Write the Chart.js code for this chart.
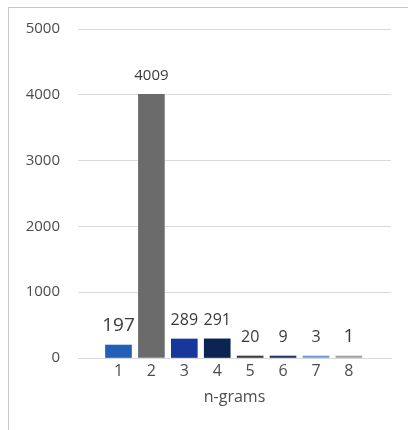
<!DOCTYPE html>
<html>
<head>
<meta charset="utf-8">
<script src="https://cdn.jsdelivr.net/npm/chart.js@4.4.1/dist/chart.umd.min.js"></script>
<style>
  html, body { margin: 0; padding: 0; background: #fff; overflow: hidden; }
  #wrap { position: relative; width: 408px; height: 430px; }
  #frame {
    position: absolute; left: 8px; top: 7px; width: 460px; height: 480px;
    border-left: 1px solid #c9c9c9; border-top: 1px solid #c9c9c9;
  }
  canvas { position: absolute; left: 0; top: 0; }
</style>
</head>
<body>
<div id="wrap">
  <div id="frame"></div>
  <canvas id="chart" width="408" height="430"></canvas>
</div>
<script>
/* ---------- data ---------- */
var categories = [1, 2, 3, 4, 5, 6, 7, 8];
var counts     = [197, 4009, 289, 291, 20, 9, 3, 1];
var yTicks     = [0, 1000, 2000, 3000, 4000, 5000];

/* ---------- look ---------- */
var barColors  = ['#2160b6', '#6b6b6b', '#17379b', '#0b2453', '#3f3f3f', '#27366a', '#6a9fd8', '#a3a3a3'];
var labelSizes = [19, 15, 16, 16, 16, 16, 16, 19];
var FONT = "'Open Sans', 'Segoe UI', sans-serif";
var TICK = '#4d4d4d';

/* value labels above each bar, sizes vary like the original */
var valueLabels = {
  id: 'valueLabels',
  afterDatasetsDraw: function (chart) {
    var ctx = chart.ctx;
    var meta = chart.getDatasetMeta(0);
    ctx.save();
    ctx.fillStyle = '#3a3a3a';
    ctx.textAlign = 'center';
    ctx.textBaseline = 'alphabetic';
    meta.data.forEach(function (bar, i) {
      ctx.font = labelSizes[i] + 'px ' + FONT;
      ctx.fillText(String(counts[i]), bar.x, bar.y - 14);
    });
    ctx.restore();
  }
};

new Chart(document.getElementById('chart'), {
  type: 'bar',
  data: {
    datasets: [{
      data: categories.map(function (c, i) { return { x: c, y: counts[i] }; }),
      backgroundColor: barColors,
      borderWidth: 0,
      barThickness: 26,
      minBarLength: 2   /* tiny counts still show as a sliver, as in the original */
    }]
  },
  plugins: [valueLabels],
  options: {
    responsive: false,
    animation: false,
    events: [],
    layout: { padding: { left: 0, right: 17, top: 29, bottom: 20 } },
    plugins: { legend: { display: false }, tooltip: { enabled: false } },
    scales: {
      x: {
        type: 'linear',
        offset: false,
        min: -0.23, max: 9.28,
        grid: { display: false, drawTicks: false, offset: false },
        border: { display: true, color: '#d9d9d9', width: 1 },
        ticks: {
          stepSize: 1,
          includeBounds: false,
          autoSkip: false,
          maxRotation: 0,
          padding: 4,
          color: TICK,
          font: { family: FONT, size: 16 },
          callback: function (v) { return categories.indexOf(v) >= 0 ? String(v) : ''; }
        },
        title: {
          display: true,
          text: 'n-grams',
          color: TICK,
          font: { family: FONT, size: 16 },
          padding: { top: 0, bottom: 3 }
        },
        afterFit: function (s) { s.height = 52; }
      },
      y: {
        min: yTicks[0], max: yTicks[yTicks.length - 1],
        grid: { color: '#d9d9d9', drawTicks: false },
        border: { display: false },
        ticks: {
          stepSize: yTicks[1] - yTicks[0],
          padding: 18,
          color: TICK,
          font: { family: FONT, size: 15 },
          callback: function (v) { return String(v); }
        },
        afterFit: function (s) { s.width = 78; }
      }
    }
  }
});
</script>
</body>
</html>
